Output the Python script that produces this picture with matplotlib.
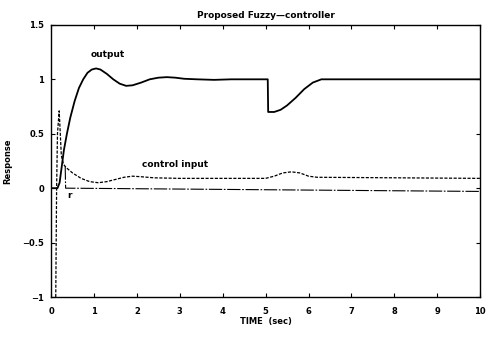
import numpy as np
import matplotlib
matplotlib.use("Agg")
import matplotlib.pyplot as plt

# values
t_out = [0, 0.15, 0.2, 0.25, 0.3, 0.37, 0.45, 0.55, 0.65, 0.75, 0.85, 0.95,
         1.05, 1.15, 1.3, 1.45, 1.6, 1.75, 1.9, 2.1, 2.3, 2.5, 2.7, 2.9, 3.1,
         3.4, 3.8, 4.2, 5.05, 5.06, 5.2, 5.35, 5.5, 5.7, 5.9, 6.1, 6.3, 6.5, 10]
y_out = [0, 0, 0.05, 0.2, 0.35, 0.5, 0.65, 0.8, 0.92, 1.0, 1.06, 1.09,
         1.10, 1.09, 1.05, 1.0, 0.96, 0.94, 0.945, 0.97, 1.0, 1.015, 1.02, 1.015, 1.005,
         1.0, 0.995, 1.0, 1.0, 0.70, 0.70, 0.72, 0.76, 0.83, 0.91, 0.97, 1.0, 1.0, 1.0]

t_ctrl = [0.11, 0.13, 0.15, 0.19, 0.24, 0.29, 0.35, 0.5, 0.7, 0.9, 1.1, 1.3,
          1.5, 1.7, 1.9, 2.1, 2.4, 3.0, 4.0, 5.0, 5.2, 5.4, 5.6, 5.8, 6.0, 6.2, 10]
y_ctrl = [-1.0, 0.0, 0.5, 0.71, 0.3, 0.22, 0.19, 0.14, 0.09, 0.06, 0.05, 0.06,
          0.08, 0.10, 0.11, 0.105, 0.095, 0.09, 0.09, 0.09, 0.11, 0.14, 0.15, 0.14, 0.11, 0.10, 0.09]

t_r = [0.33, 0.34, 10]
y_r = [0.2, 0.0, -0.03]

xticks = [0, 1, 2, 3, 4, 5, 6, 7, 8, 9, 10]
yticks = [-1, -0.5, 0, 0.5, 1, 1.5]

plt.rcParams['font.family'] = ['DejaVu Sans']
plt.rcParams['font.weight'] = 'bold'

fig = plt.figure(figsize=(4.86, 3.41), dpi=100)
ax = fig.add_axes([0.105, 0.129, 0.883, 0.798])

ax.plot(t_out, y_out, color='black', lw=1.3)
ax.plot(t_ctrl, y_ctrl, color='black', lw=0.9, linestyle=(0, (2.5, 1.2)))
ax.plot(t_r, y_r, color='black', lw=0.8, linestyle=(0, (12, 1.5, 1.5, 1.5)))

ax.text(1.33, 1.23, 'output', fontsize=6.5, fontweight='bold', ha='center', va='center')
ax.text(2.9, 0.22, 'control input', fontsize=6.5, fontweight='bold', ha='center', va='center')
ax.text(0.44, -0.07, 'r', fontsize=6.5, fontweight='bold', ha='center', va='center')

ax.set_xlim(0, 10)
ax.set_ylim(-1, 1.5)
ax.set_xticks(xticks)
ax.set_yticks(yticks)
ax.set_xticklabels([str(v) for v in xticks])
ax.set_yticklabels(['\u22121', '\u22120.5', '0', '0.5', '1', '1.5'])
ax.tick_params(direction='in', top=True, right=True, length=3, width=0.8,
               labelsize=6, pad=5)
ax.tick_params(axis='x', pad=7)
for s in ax.spines.values():
    s.set_linewidth(1.0)

ax.set_title('Proposed Fuzzy\u2014controller', fontsize=6.5, fontweight='bold', pad=5)
ax.set_xlabel('TIME  (sec)', fontsize=6, fontweight='bold')
ax.set_ylabel('Response', fontsize=6, fontweight='bold')
ax.xaxis.set_label_coords(0.5, -0.075)
ax.yaxis.set_label_coords(-0.09, 0.5)

fig.savefig('out.png', dpi=100)
